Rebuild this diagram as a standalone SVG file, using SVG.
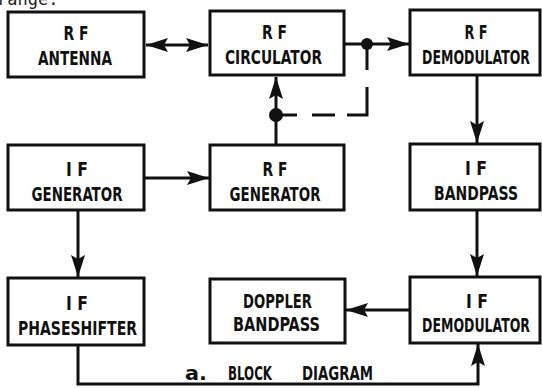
<svg xmlns="http://www.w3.org/2000/svg" width="542" height="388" viewBox="0 0 542 388">
<defs>
<marker id="ah" viewBox="0 0 22 14" refX="22" refY="7" markerWidth="22" markerHeight="14" markerUnits="userSpaceOnUse" orient="auto-start-reverse">
<path d="M0,0 L22,7 L0,14 L4,7 Z" fill="#111"/>
</marker>
<style>
.box{fill:none;stroke:#111;stroke-width:3}
.ln{fill:none;stroke:#111;stroke-width:3}
.t{font-family:"DejaVu Sans Condensed","DejaVu Sans","Liberation Sans",sans-serif;font-weight:bold;font-size:19px;fill:#111;text-anchor:middle}
.cap{font-family:"DejaVu Sans Condensed","DejaVu Sans","Liberation Sans",sans-serif;font-weight:bold;font-size:20px;fill:#111}
.dot{fill:#111}
</style>
</defs>
<rect width="542" height="388" fill="#ffffff"/>
<text x="-3" y="5" font-family="DejaVu Sans Mono, monospace" font-size="17" fill="#222">range.</text>

<g id="rf-antenna">
<rect class="box" x="8" y="12" width="136" height="65"/>
<text class="t" x="76" y="40" textLength="25" lengthAdjust="spacingAndGlyphs">R F</text>
<text class="t" x="75" y="65" textLength="74" lengthAdjust="spacingAndGlyphs">ANTENNA</text>
</g>
<g id="rf-circulator">
<rect class="box" x="210" y="11" width="134" height="64"/>
<text class="t" x="274.5" y="39" textLength="25" lengthAdjust="spacingAndGlyphs">R F</text>
<text class="t" x="273.5" y="64" textLength="97" lengthAdjust="spacingAndGlyphs">CIRCULATOR</text>
</g>
<g id="rf-demodulator">
<rect class="box" x="410" y="10" width="130" height="65"/>
<text class="t" x="476" y="39" textLength="23" lengthAdjust="spacingAndGlyphs">R F</text>
<text class="t" x="476" y="64" textLength="108" lengthAdjust="spacingAndGlyphs">DEMODULATOR</text>
</g>
<g id="if-generator">
<rect class="box" x="8" y="145" width="136" height="65"/>
<text class="t" x="77" y="176" textLength="22" lengthAdjust="spacingAndGlyphs">I F</text>
<text class="t" x="77" y="201" textLength="91" lengthAdjust="spacingAndGlyphs">GENERATOR</text>
</g>
<g id="rf-generator">
<rect class="box" x="210" y="145" width="134" height="65"/>
<text class="t" x="275" y="176" textLength="25" lengthAdjust="spacingAndGlyphs">R F</text>
<text class="t" x="275" y="201" textLength="91" lengthAdjust="spacingAndGlyphs">GENERATOR</text>
</g>
<g id="if-bandpass">
<rect class="box" x="410" y="144" width="130" height="66"/>
<text class="t" x="476" y="175" textLength="22" lengthAdjust="spacingAndGlyphs">I F</text>
<text class="t" x="476" y="200" textLength="84" lengthAdjust="spacingAndGlyphs">BANDPASS</text>
</g>
<g id="if-phaseshifter">
<rect class="box" x="8" y="278" width="136" height="67"/>
<text class="t" x="77" y="310" textLength="22" lengthAdjust="spacingAndGlyphs">I F</text>
<text class="t" x="77.5" y="335" textLength="119" lengthAdjust="spacingAndGlyphs">PHASESHIFTER</text>
</g>
<g id="doppler-bandpass">
<rect class="box" x="210" y="279" width="135" height="64"/>
<text class="t" x="277.5" y="308" textLength="69" lengthAdjust="spacingAndGlyphs">DOPPLER</text>
<text class="t" x="276.5" y="331" textLength="87" lengthAdjust="spacingAndGlyphs">BANDPASS</text>
</g>
<g id="if-demodulator">
<rect class="box" x="410" y="277" width="130" height="66"/>
<text class="t" x="477" y="308" textLength="22" lengthAdjust="spacingAndGlyphs">I F</text>
<text class="t" x="476" y="332" textLength="108" lengthAdjust="spacingAndGlyphs">DEMODULATOR</text>
</g>

<g id="connectors">
<path class="ln" d="M146,45 H208" marker-start="url(#ah)" marker-end="url(#ah)"/>
<path class="ln" d="M345,44 H409" marker-end="url(#ah)"/>
<circle class="dot" cx="367" cy="44" r="6"/>
<path class="ln" d="M367,44 V70"/>
<path class="ln" d="M367,87 V115 H347"/>
<path class="ln" d="M335,115 H312"/>
<path class="ln" d="M297,115 H276"/>
<path class="ln" d="M276,145 V77" marker-end="url(#ah)"/>
<circle class="dot" cx="276" cy="115" r="7"/>
<path class="ln" d="M145,178 H209" marker-end="url(#ah)"/>
<path class="ln" d="M78,211 V277" marker-end="url(#ah)"/>
<path class="ln" d="M477,76 V143" marker-end="url(#ah)"/>
<path class="ln" d="M477,211 V276" marker-end="url(#ah)"/>
<path class="ln" d="M409,310 H346" marker-end="url(#ah)"/>
<path class="ln" d="M78,346 V384 H478 V344" marker-end="url(#ah)"/>
</g>

<text class="cap" x="185" y="380" textLength="22" lengthAdjust="spacingAndGlyphs">a.</text>
<text class="cap" x="228" y="380" textLength="44" lengthAdjust="spacingAndGlyphs">BLOCK</text>
<text class="cap" x="302" y="380" textLength="71" lengthAdjust="spacingAndGlyphs">DIAGRAM</text>
</svg>
